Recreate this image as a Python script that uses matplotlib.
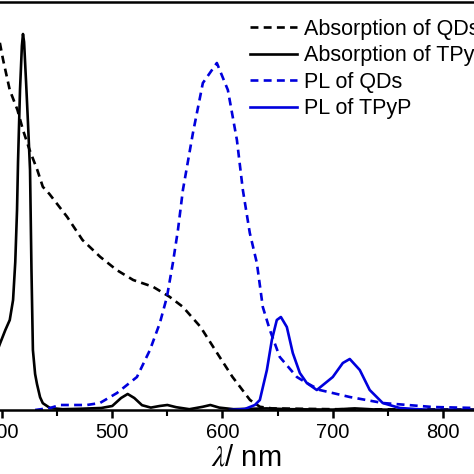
import numpy as np
import matplotlib.pyplot as plt

plt.rcParams['font.family'] = ['Liberation Sans', 'DejaVu Sans']
plt.rcParams['mathtext.fontset'] = 'stix'

# absorption of QDs (dashed black)
abs_qd_x = [398, 401, 407, 414, 419, 425, 432, 437, 443, 459, 473, 489, 504, 519,
            537, 552, 564, 580, 595, 609, 625, 634, 645, 700, 830]
abs_qd_y = [0.918, 0.875, 0.80, 0.75, 0.70, 0.65, 0.60, 0.558, 0.54, 0.483, 0.425, 0.383,
            0.35, 0.325, 0.308, 0.283, 0.258, 0.208, 0.143, 0.083, 0.025, 0.008, 0.004,
            0.002, 0.001]

# absorption of TPyP (solid black)
abs_tp_x = [396, 398, 403, 407, 410, 412, 413.6, 414.5, 416.3, 418, 419, 420, 421.8,
            423.5, 425.4, 426.7, 428, 430, 431.7, 434.5, 437, 443.5, 455, 470, 490,
            500, 508, 514, 520, 527, 535, 543, 550, 558, 570, 582, 589, 597, 610,
            640, 660, 700, 720, 740, 830]
abs_tp_y = [0.15, 0.165, 0.20, 0.225, 0.275, 0.37, 0.50, 0.62, 0.80, 0.91, 0.94, 0.92,
            0.82, 0.72, 0.60, 0.35, 0.15, 0.09, 0.065, 0.032, 0.017, 0.005, 0.002,
            0.003, 0.005, 0.01, 0.03, 0.04, 0.03, 0.012, 0.006, 0.01, 0.0125, 0.007,
            0.002, 0.008, 0.0125, 0.006, 0.002, 0.004, 0.002, 0.001, 0.004, 0.001, 0.0]

# PL of QDs (dashed blue)
pl_qd_x = [430, 443.5, 452.6, 477, 488.8, 504.3, 522.4, 534.2, 543.2, 549.6, 555, 559.6,
           564.1, 573.2, 582.2, 594.9, 604.9, 613.1, 618.5, 624.8, 631.2, 636.6, 643,
           652, 667.5, 676.5, 688.3, 715.5, 745.4, 790.7, 830]
pl_qd_y = [0.0, 0.005, 0.0125, 0.0125, 0.0175, 0.0425, 0.0825, 0.15, 0.2175, 0.2825,
           0.3675, 0.45, 0.55, 0.6925, 0.8175, 0.8675, 0.80, 0.675, 0.55, 0.4425,
           0.3675, 0.2575, 0.20, 0.1325, 0.0825, 0.0675, 0.05, 0.0325, 0.0175,
           0.0075, 0.005]

# PL of TPyP (solid blue)
pl_tp_x = [606.7, 620.3, 629.4, 633.9, 640.3, 644.8, 649.3, 653, 658.4, 663.8, 670.2,
           676.5, 685.6, 700.1, 709.2, 715.5, 724.6, 733.6, 745.4, 760.8, 788, 830]
pl_tp_y = [0.0, 0.0025, 0.0125, 0.025, 0.10, 0.175, 0.225, 0.2325, 0.2075, 0.1425,
           0.0925, 0.0675, 0.05, 0.0825, 0.1175, 0.1275, 0.10, 0.05, 0.0175, 0.005,
           0.0, 0.0]

fig = plt.figure(figsize=(4.74, 4.74), dpi=100)
ax = fig.add_axes([-20 / 474, 64 / 474, 518 / 474, 408 / 474])

lw = 1.9
blue = '#0000dd'
ax.plot(abs_qd_x, abs_qd_y, color='black', lw=lw, ls=(0, (3, 2)), label='Absorption of QDs')
ax.plot(abs_tp_x, abs_tp_y, color='black', lw=lw, label='Absorption of TPyP')
ax.plot(pl_qd_x, pl_qd_y, color=blue, lw=lw, ls=(0, (3, 2)), label='PL of QDs')
ax.plot(pl_tp_x, pl_tp_y, color=blue, lw=lw, label='PL of TPyP')

ax.set_xticks([400, 500, 600, 700, 800])
ax.set_xticks(np.arange(350, 900, 50), minor=True)
ax.set_yticks([])
ax.set_xlim(380, 850)
ax.set_ylim(0, 1.02)
for s in ax.spines.values():
    s.set_linewidth(1.8)
ax.tick_params(axis='x', which='major', direction='out', length=6, width=1.8,
               labelsize=14.5, pad=3.5)
ax.tick_params(axis='x', which='minor', direction='out', length=4, width=1.5)
ax.set_xlabel(r'$\lambda$/ nm', fontsize=21)
ax.xaxis.set_label_coords((246 + 20) / 518, -(443 - 410) / 408)

ax.legend(loc='upper left', bbox_to_anchor=(250 / 474, 1 - 19 / 474),
          bbox_transform=fig.transFigure, frameon=False, fontsize=15.5,
          handlelength=2.2, handletextpad=0.3, borderpad=0, borderaxespad=0,
          labelspacing=0.25)

fig.savefig('out.png', dpi=100)
